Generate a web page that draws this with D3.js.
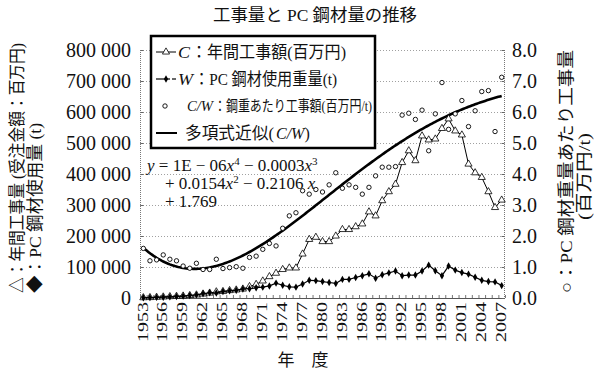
<!DOCTYPE html>
<html>
<head>
<meta charset="utf-8">
<script src="https://cdn.jsdelivr.net/npm/d3@7"></script>
<style>
  body { margin: 0; background: #fff; }
  svg { display: block; }
  text { fill: #111; }
</style>
</head>
<body>
<div id="chartArea"></div>
<script>
// 年度
var years = d3.range(1953, 2008);
// C：年間工事額(百万円)
var constructionValue = [
    1000, 1500, 2500, 3500, 4500, 5500, 6500, 8000, 10000, 13000,
    16000, 20000, 21000, 24000, 26000, 29000, 37000, 44000, 55000, 69000,
    80000, 92000, 97000, 97000, 142000, 189000, 196000, 182000, 182000, 200000,
    221000, 221000, 230000, 239000, 278000, 265000, 314000, 343000, 367000, 437000,
    475000, 443000, 523000, 510000, 513000, 547000, 578000, 539000, 526000, 432000,
    404000, 389000, 343000, 292000, 316000
];
// W：PC鋼材使用重量(t)
var steelWeight = [
    700, 1200, 2000, 2600, 3600, 4600, 6000, 8000, 10000, 14000,
    17000, 16000, 21000, 23000, 25000, 29000, 30000, 33000, 35000, 39000,
    48000, 41000, 36000, 35000, 45000, 57000, 56000, 53000, 50000, 47000,
    60000, 60000, 66000, 72000, 78000, 64000, 75000, 81000, 87000, 72000,
    74000, 74000, 87000, 106000, 88000, 72000, 103000, 90000, 82000, 77000,
    67000, 57000, 53000, 52000, 40000
];
// C/W：鋼重あたり工事額(百万円/t)
var valuePerTon = [
    1.60, 1.20, 1.23, 1.39, 1.25, 1.20, 1.03, 0.96, 1.12, 0.92,
    0.92, 1.25, 0.95, 0.98, 1.01, 0.96, 1.31, 1.35, 1.57, 1.76,
    1.68, 2.25, 2.65, 2.75, 3.46, 3.35, 3.50, 3.42, 3.65, 4.04,
    3.54, 3.65, 3.57, 3.35, 3.57, 3.94, 4.22, 4.22, 4.24, 5.90,
    5.96, 5.76, 6.06, 4.75, 5.94, 6.95, 5.44, 5.94, 6.37, 5.53,
    6.04, 6.66, 6.69, 5.37, 7.12
];
var leftTicks = [0, 100000, 200000, 300000, 400000, 500000, 600000, 700000, 800000];
var rightTicks = [0, 1, 2, 3, 4, 5, 6, 7, 8];
var yearLabels = d3.range(1953, 2008, 3);

var serif = "'Liberation Serif', 'DejaVu Serif', serif";
var jp = "'Liberation Serif', 'Noto Sans CJK JP', serif";

var width = 599, height = 378;
var plot = {left: 140, right: 505, top: 50, bottom: 298};

var svg = d3.select("#chartArea")
    .append("svg")
    .attr("width", width)
    .attr("height", height);

// 比例尺
var xScale = d3.scalePoint()
    .domain(years)
    .range([plot.left, plot.right])
    .padding(0.5);
var xLin = d3.scaleLinear()
    .domain([1953, 2007])
    .range([xScale(1953), xScale(2007)]);
var yLeft = d3.scaleLinear()
    .domain([0, 800000])
    .range([plot.bottom, plot.top]);
var yRight = d3.scaleLinear()
    .domain([0, 8])
    .range([plot.bottom, plot.top]);

var fmtLeft = d3.formatLocale({decimal: ".", thousands: " ", grouping: [3], currency: ["", ""]}).format(",");

// 目盛線
svg.append("g")
    .selectAll("line")
    .data(leftTicks.slice(1))
    .enter().append("line")
    .attr("x1", plot.left).attr("x2", plot.right)
    .attr("y1", function (d) { return yLeft(d) + 0.5; })
    .attr("y2", function (d) { return yLeft(d) + 0.5; })
    .attr("stroke", "#a0a0a0")
    .attr("stroke-dasharray", "1,2");

// 枠
svg.append("line")
    .attr("x1", plot.left + 0.5).attr("x2", plot.left + 0.5)
    .attr("y1", plot.top).attr("y2", plot.bottom)
    .attr("stroke", "#777").attr("stroke-dasharray", "1,1");
svg.append("line")
    .attr("x1", plot.right - 0.5).attr("x2", plot.right - 0.5)
    .attr("y1", plot.top).attr("y2", plot.bottom)
    .attr("stroke", "#777").attr("stroke-dasharray", "1,1");
svg.append("line")
    .attr("x1", plot.left).attr("x2", plot.right)
    .attr("y1", plot.bottom + 0.5).attr("y2", plot.bottom + 0.5)
    .attr("stroke", "#555");

// 軸
var gLeft = svg.append("g")
    .attr("transform", "translate(" + (plot.left + 0.5) + ",0)")
    .call(d3.axisRight(yLeft).tickValues(leftTicks).tickSize(3).tickFormat(""));
var gRight = svg.append("g")
    .attr("transform", "translate(" + (plot.right - 0.5) + ",0)")
    .call(d3.axisLeft(yRight).tickValues(rightTicks).tickSize(3).tickFormat(""));
gLeft.select(".domain").remove();
gRight.select(".domain").remove();
svg.selectAll(".tick line").attr("stroke", "#666");

// 年度の小目盛
svg.append("g")
    .selectAll("line")
    .data(d3.range(years.length + 1))
    .enter().append("line")
    .attr("x1", function (i) { return plot.left + i * xScale.step() + 0.5; })
    .attr("x2", function (i) { return plot.left + i * xScale.step() + 0.5; })
    .attr("y1", plot.bottom)
    .attr("y2", plot.bottom - 3)
    .attr("stroke", "#777");

// 目盛ラベル
svg.append("g")
    .selectAll("text")
    .data(leftTicks)
    .enter().append("text")
    .attr("x", 131)
    .attr("y", function (d) { return yLeft(d); })
    .attr("dy", "0.35em")
    .attr("text-anchor", "end")
    .style("font-family", serif)
    .style("font-size", "20px")
    .text(function (d) { return fmtLeft(d); });

svg.append("g")
    .selectAll("text")
    .data(rightTicks)
    .enter().append("text")
    .attr("x", 512)
    .attr("y", function (d) { return yRight(d); })
    .attr("dy", "0.35em")
    .style("font-family", serif)
    .style("font-size", "20px")
    .text(function (d) { return d3.format(".1f")(d); });

svg.append("g")
    .selectAll("text")
    .data(yearLabels)
    .enter().append("text")
    .attr("transform", function (d) { return "translate(" + (xScale(d) - 1) + ",302) rotate(-90)"; })
    .attr("dy", "0.35em")
    .attr("text-anchor", "end")
    .attr("textLength", 40)
    .attr("lengthAdjust", "spacingAndGlyphs")
    .style("font-family", serif)
    .style("font-size", "15px")
    .text(function (d) { return d; });

// 多項式近似（4次, 最小二乗）
function polyFit(xs, ys, deg) {
    var mid = d3.mean(xs), half = (d3.max(xs) - d3.min(xs)) / 2;
    var n = deg + 1;
    var A = [], b = [];
    for (var r = 0; r < n; r++) { A.push(new Array(n).fill(0)); b.push(0); }
    xs.forEach(function (x, k) {
        var t = (x - mid) / half;
        for (var r = 0; r < n; r++) {
            b[r] += ys[k] * Math.pow(t, r);
            for (var c = 0; c < n; c++) A[r][c] += Math.pow(t, r + c);
        }
    });
    for (var p = 0; p < n; p++) {
        var m = p;
        for (var r = p + 1; r < n; r++) if (Math.abs(A[r][p]) > Math.abs(A[m][p])) m = r;
        var tmp = A[p]; A[p] = A[m]; A[m] = tmp;
        var tb = b[p]; b[p] = b[m]; b[m] = tb;
        for (var r = p + 1; r < n; r++) {
            var f = A[r][p] / A[p][p];
            for (var c = p; c < n; c++) A[r][c] -= f * A[p][c];
            b[r] -= f * b[p];
        }
    }
    var coef = new Array(n).fill(0);
    for (var r = n - 1; r >= 0; r--) {
        var s = b[r];
        for (var c = r + 1; c < n; c++) s -= A[r][c] * coef[c];
        coef[r] = s / A[r][r];
    }
    return function (x) {
        var t = (x - mid) / half, v = 0;
        for (var r = 0; r < n; r++) v += coef[r] * Math.pow(t, r);
        return v;
    };
}
var trend = polyFit(years, valuePerTon, 4);
var trendPts = d3.range(1953, 2007.01, 0.25);

svg.append("path")
    .datum(trendPts)
    .attr("fill", "none")
    .attr("stroke", "#000")
    .attr("stroke-width", 2.6)
    .attr("d", d3.line()
        .x(function (d) { return xLin(d); })
        .y(function (d) { return yRight(trend(d)); }));

// C/W
svg.append("g")
    .selectAll("circle")
    .data(years)
    .enter().append("circle")
    .attr("cx", function (d) { return xScale(d); })
    .attr("cy", function (d, i) { return yRight(valuePerTon[i]); })
    .attr("r", 2.2)
    .attr("fill", "#fff")
    .attr("stroke", "#000")
    .attr("stroke-width", 0.9);

// C
svg.append("path")
    .datum(years)
    .attr("fill", "none")
    .attr("stroke", "#000")
    .attr("stroke-width", 1)
    .attr("d", d3.line()
        .x(function (d) { return xScale(d); })
        .y(function (d, i) { return yLeft(constructionValue[i]); }));
svg.append("g")
    .selectAll("path")
    .data(years)
    .enter().append("path")
    .attr("d", d3.symbol().type(d3.symbolTriangle).size(22))
    .attr("transform", function (d, i) { return "translate(" + xScale(d) + "," + yLeft(constructionValue[i]) + ")"; })
    .attr("fill", "#fff")
    .attr("stroke", "#000")
    .attr("stroke-width", 0.8);

// W
svg.append("path")
    .datum(years)
    .attr("fill", "none")
    .attr("stroke", "#000")
    .attr("stroke-width", 1.2)
    .attr("d", d3.line()
        .x(function (d) { return xScale(d); })
        .y(function (d, i) { return yLeft(steelWeight[i]); }));
svg.append("g")
    .selectAll("path")
    .data(years)
    .enter().append("path")
    .attr("d", d3.symbol().type(d3.symbolDiamond).size(16))
    .attr("transform", function (d, i) { return "translate(" + xScale(d) + "," + yLeft(steelWeight[i]) + ")"; })
    .attr("fill", "#000");

// 凡例
var legend = svg.append("g");
legend.append("rect")
    .attr("x", 151).attr("y", 36)
    .attr("width", 224).attr("height", 112)
    .attr("fill", "#fff")
    .attr("stroke", "#000")
    .attr("stroke-width", 2.5);

var rows = [52, 79, 106, 133];
legend.append("line").attr("x1", 156).attr("x2", 176).attr("y1", rows[0]).attr("y2", rows[0]).attr("stroke", "#000");
legend.append("path").attr("d", d3.symbol().type(d3.symbolTriangle).size(22)())
    .attr("transform", "translate(166," + rows[0] + ")")
    .attr("fill", "#fff").attr("stroke", "#000").attr("stroke-width", 0.8);
legend.append("line").attr("x1", 156).attr("x2", 170).attr("y1", rows[1]).attr("y2", rows[1]).attr("stroke", "#000").attr("stroke-width", 1.2);
legend.append("line").attr("x1", 172).attr("x2", 176).attr("y1", rows[1]).attr("y2", rows[1]).attr("stroke", "#000").attr("stroke-width", 1.2);
legend.append("path").attr("d", d3.symbol().type(d3.symbolDiamond).size(16)())
    .attr("transform", "translate(166," + rows[1] + ")").attr("fill", "#000");
legend.append("circle").attr("cx", 165).attr("cy", rows[2]).attr("r", 2.2)
    .attr("fill", "#fff").attr("stroke", "#000").attr("stroke-width", 0.9);
legend.append("line").attr("x1", 156).attr("x2", 177).attr("y1", rows[3]).attr("y2", rows[3]).attr("stroke", "#000").attr("stroke-width", 2);

// 凡例の文字：イタリック部分と本文を別々に置く
var legendParts = [
    {row: 0, x: 178, len: 12, size: 17, italic: true, txt: "C"},
    {row: 0, x: 191, len: 155, size: 17, italic: false, txt: "：年間工事額(百万円)"},
    {row: 1, x: 178, len: 15, size: 17, italic: true, txt: "W"},
    {row: 1, x: 194, len: 143, size: 17, italic: false, txt: "：PC 鋼材使用重量(t)"},
    {row: 2, x: 187, len: 26, size: 15, italic: true, txt: "C/W"},
    {row: 2, x: 214, len: 158, size: 15, italic: false, txt: "：鋼重あたり工事額(百万円/t)"},
    {row: 3, x: 185, len: 89, size: 17, italic: false, txt: "多項式近似("}
];
legend.selectAll("text.leg")
    .data(legendParts)
    .enter().append("text")
    .attr("class", "leg")
    .attr("x", function (d) { return d.x; })
    .attr("y", function (d) { return rows[d.row]; })
    .attr("dy", "0.36em")
    .attr("textLength", function (d) { return d.len; })
    .attr("lengthAdjust", "spacingAndGlyphs")
    .style("font-family", jp)
    .style("font-size", function (d) { return d.size + "px"; })
    .style("font-style", function (d) { return d.italic ? "italic" : "normal"; })
    .text(function (d) { return d.txt; });
// 「C/W)」は一つの文字列にまとめる
var tail = legend.append("text")
    .attr("x", 276)
    .attr("y", rows[3])
    .attr("dy", "0.36em")
    .style("font-family", jp)
    .style("font-size", "16px");
tail.append("tspan").style("font-style", "italic").text("C/W");
tail.append("tspan").text(")");

// 近似式
var eq = svg.append("g").style("font-family", serif).style("font-size", "17px");
var l1 = eq.append("text").attr("x", 147).attr("y", 171);
l1.append("tspan").style("font-style", "italic").text("y");
l1.append("tspan").text(" = 1E − 06");
l1.append("tspan").style("font-style", "italic").text("x");
l1.append("tspan").attr("dy", -6).style("font-size", "11px").text("4");
l1.append("tspan").attr("dy", 6).text(" − 0.0003");
l1.append("tspan").style("font-style", "italic").text("x");
l1.append("tspan").attr("dy", -6).style("font-size", "11px").text("3");
var l2 = eq.append("text").attr("x", 165).attr("y", 189);
l2.append("tspan").text("+ 0.0154");
l2.append("tspan").style("font-style", "italic").text("x");
l2.append("tspan").attr("dy", -6).style("font-size", "11px").text("2");
l2.append("tspan").attr("dy", 6).text(" − 0.2106");
l2.append("tspan").style("font-style", "italic").text(" x");
eq.append("text").attr("x", 165).attr("y", 207).text("+ 1.769");

// タイトル
svg.append("text")
    .attr("x", 315).attr("y", 21)
    .attr("text-anchor", "middle")
    .attr("textLength", 204)
    .attr("lengthAdjust", "spacingAndGlyphs")
    .style("font-family", jp)
    .style("font-size", "17px")
    .text("工事量と PC 鋼材量の推移");

svg.append("text")
    .attr("x", 303).attr("y", 366)
    .attr("text-anchor", "middle")
    .style("font-family", jp)
    .style("font-size", "17px")
    .text("年　度");

// 軸タイトル（縦書き風）
function vTitle(x, yBottom, len, txt) {
    svg.append("text")
        .attr("transform", "translate(" + x + "," + yBottom + ") rotate(-90)")
        .attr("dy", "0.36em")
        .attr("textLength", len)
        .attr("lengthAdjust", "spacingAndGlyphs")
        .style("font-family", jp)
        .style("font-size", "17px")
        .text(txt);
}
vTitle(17, 293, 250, "△：年間工事量 (受注金額：百万円)");
vTitle(35, 293, 170, "◆：PC 鋼材使用量 (t)");
vTitle(566, 293, 243, "○：PC 鋼材重量あたり工事量");
vTitle(584, 220, 87, "(百万円/t)");
</script>
</body>
</html>
